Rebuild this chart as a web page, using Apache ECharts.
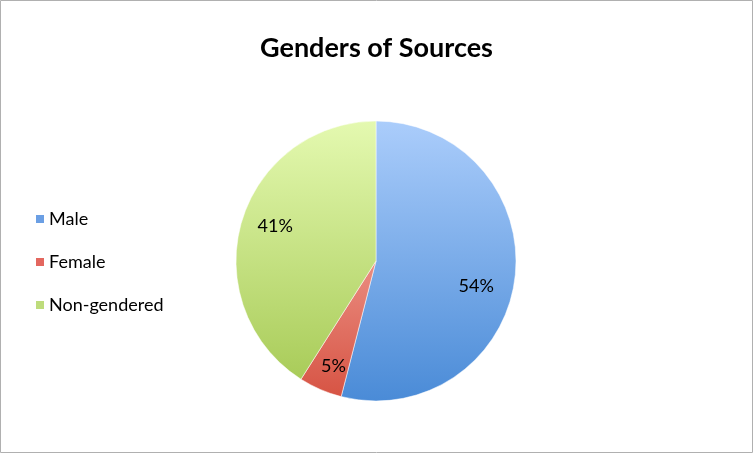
<!DOCTYPE html>
<html><head><meta charset="utf-8">
<script src="https://cdn.jsdelivr.net/npm/echarts@6/dist/echarts.min.js"></script>
<style>html,body{margin:0;padding:0;background:#fff}#c{width:753px;height:453px}</style>
</head><body><div id="c"></div>
<script>
const categories = ['Male', 'Female', 'Non-gendered'];
const values = [54, 5, 41];
const title = 'Genders of Sources';

const CX = 376, CY = 261, R = 140;
function grad(top, bottom) {
  return new echarts.graphic.LinearGradient(0, CY - R, 0, CY + R, [
    {offset: 0, color: top}, {offset: 1, color: bottom}
  ], true);
}
const colorPairs = [['#abcdfb', '#4a8bd7'], ['#ffc8c0', '#d65242'], ['#e4f9b0', '#a4c852']];
const legendColors = ['#6b9fe4', '#e3675f', '#bedc7c'];

const chart = echarts.init(document.getElementById('c'), null, {renderer: 'canvas'});
const mainData = categories.map((n, i) => ({
  name: n, value: values[i],
  itemStyle: {color: grad(colorPairs[i][0], colorPairs[i][1])}
}));
const labelData = categories.map((n, i) => ({
  name: n, value: values[i],
  label: i === 0 ? {offset: [-6, 12]} : (i === 1 ? {offset: [0, 7]} : {offset: [2, -5]})
}));
chart.setOption({
  animation: false,
  graphic: [{type: 'rect', shape: {x: 0.5, y: 0.5, width: 752, height: 452},
    style: {fill: 'none', stroke: '#b0b0b0', lineWidth: 1}, silent: true}],
  title: {text: title, left: 'center', top: 30,
    textStyle: {fontFamily: 'Lato', fontWeight: 'bold', fontSize: 27, color: '#000'}},
  legend: {orient: 'vertical', left: 29, top: 205, itemWidth: 10, itemHeight: 10, itemGap: 25,
    icon: 'rect',
    data: categories.map((n, i) => ({name: n, itemStyle: {color: legendColors[i]}})),
    textStyle: {fontFamily: 'Lato', fontSize: 18, color: '#000', padding: [0, 0, 0, -1]}},
  series: [{
    type: 'pie', center: [CX, CY], radius: [0, R], startAngle: 90, clockwise: true,
    data: mainData, label: {show: false}, labelLine: {show: false},
    itemStyle: {borderColor: '#fff', borderWidth: 0.5}, emphasis: {disabled: true}
  }, {
    type: 'pie', center: [CX, CY], radius: [88, 120], startAngle: 90, clockwise: true,
    data: labelData, silent: true, legendHoverLink: false,
    itemStyle: {color: 'rgba(0,0,0,0)'},
    label: {show: true, position: 'inside', formatter: '{c}%',
      fontFamily: 'Lato', fontSize: 18, color: '#000'},
    labelLine: {show: false}, emphasis: {disabled: true}
  }]
});
</script></body></html>
